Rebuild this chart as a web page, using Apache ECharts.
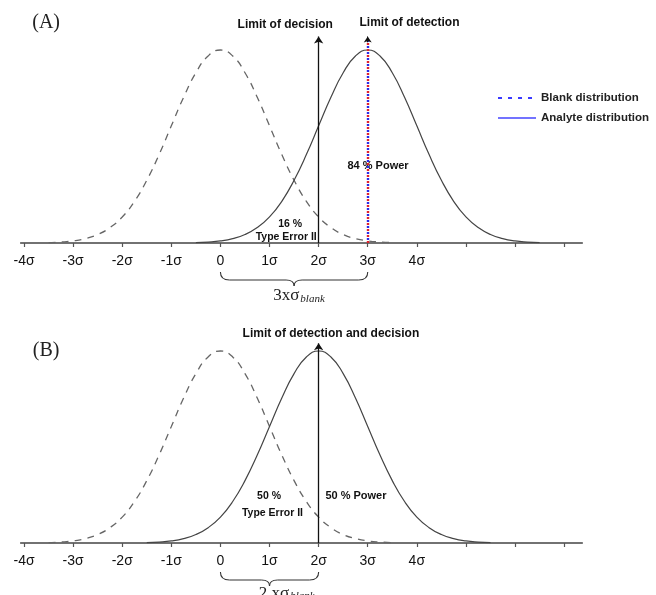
<!DOCTYPE html>
<html>
<head>
<meta charset="utf-8">
<script src="https://cdn.jsdelivr.net/npm/echarts@6/dist/echarts.min.js"></script>
<style>
  html, body { margin: 0; background: #fff; }
  #chart { width: 656px; height: 595px; }
</style>
</head>
<body>
<div id="chart"></div>
<script>
// axis ticks (in sigma units) and their labels
const sigmaTicks = [-4, -3, -2, -1, 0, 1, 2, 3, 4, 5, 6, 7];
const sigmaLabels = ["-4σ", "-3σ", "-2σ", "-1σ", "0", "1σ", "2σ", "3σ", "4σ", "", "", ""];

// curve profile: distance from the mean (σ) and relative height
const offsets = [-3.5, -3.25, -3, -2.75, -2.5, -2.25, -2, -1.75, -1.5, -1.25, -1, -0.75, -0.5, -0.25, 0,
  0.25, 0.5, 0.75, 1, 1.25, 1.5, 1.75, 2, 2.25, 2.5, 2.75, 3, 3.25, 3.5];
const heights = [0.002, 0.005, 0.011, 0.023, 0.044, 0.08, 0.135, 0.216, 0.325, 0.458, 0.607, 0.755, 0.882, 0.969, 1,
  0.969, 0.882, 0.755, 0.607, 0.458, 0.325, 0.216, 0.135, 0.08, 0.044, 0.023, 0.011, 0.005, 0.002];

// means of the distributions
const blankMean = 0;
const analyteMeanA = 3;
const analyteMeanB = 2;

// limits
const decisionA = 2;
const detectionA = 3;
const limitB = 2;

const curve = (mean) => offsets.map((d, i) => [mean + d, heights[i]]);

const FONT = "Liberation Sans, Arial, sans-serif";
const SERIF = "Liberation Serif, Times New Roman, serif";

const chart = echarts.init(document.getElementById("chart"), null, { renderer: "canvas" });

const xAxisBase = (gridIndex) => ({
  type: "value",
  gridIndex: gridIndex,
  min: -4.07,
  max: 7.37,
  splitLine: { show: false },
  axisLine: { show: true, lineStyle: { color: "#444", width: 1.5 } },
  axisTick: {
    show: true,
    customValues: sigmaTicks,
    length: 4,
    lineStyle: { color: "#555", width: 1.2 },
  },
  axisLabel: {
    customValues: sigmaTicks,
    margin: 11,
    fontSize: 14,
    fontFamily: FONT,
    color: "#111",
    formatter: (v) => sigmaLabels[sigmaTicks.indexOf(Math.round(v))] || "",
  },
});

const yAxisBase = (gridIndex) => ({
  type: "value",
  gridIndex: gridIndex,
  min: 0,
  max: 1.2,
  show: false,
});

const blankStyle = { color: "#666", width: 1.3, type: [7, 6] };
const analyteStyle = { color: "#444", width: 1.2, type: "solid" };

const arrowLine = (x, top, color) => [
  { coord: [x, 0], symbol: "none", lineStyle: { color: color, width: 1.3, type: "solid" } },
  { coord: [x, top], symbol: "arrow", symbolSize: 7 },
];

const option = {
  animation: false,
  grid: [
    { left: 20.6, right: 73.7, top: 11.4, bottom: 352 },
    { left: 20.6, right: 73.7, top: 312.6, bottom: 52 },
  ],
  xAxis: [xAxisBase(0), xAxisBase(1)],
  yAxis: [yAxisBase(0), yAxisBase(1)],
  legend: {
    orient: "vertical",
    left: 492,
    top: 87,
    itemWidth: 38,
    itemHeight: 10,
    itemGap: 8,
    itemStyle: { opacity: 0 },
    textStyle: { fontFamily: FONT, fontWeight: "bold", fontSize: 11.5, color: "#222" },
    data: [
      { name: "Blank distribution", itemStyle: { opacity: 0 }, lineStyle: { color: "#3a3aff", width: 2, type: [4, 6] } },
      { name: "Analyte distribution", itemStyle: { opacity: 0 }, lineStyle: { color: "#4444ff", width: 1.5, type: "solid" } },
    ],
  },
  series: [
    {
      name: "Blank distribution",
      type: "line",
      xAxisIndex: 0,
      yAxisIndex: 0,
      data: curve(blankMean),
      smooth: true,
      symbol: "none",
      lineStyle: blankStyle,
      itemStyle: { color: "#666" },
      silent: true,
    },
    {
      name: "Analyte distribution",
      type: "line",
      xAxisIndex: 0,
      yAxisIndex: 0,
      data: curve(analyteMeanA),
      smooth: true,
      symbol: "none",
      lineStyle: analyteStyle,
      itemStyle: { color: "#444" },
      silent: true,
      markLine: {
        silent: true,
        label: { show: false },
        symbol: ["none", "arrow"],
        data: [
          arrowLine(decisionA, 1.07, "#111"),
          [
            { coord: [detectionA, 0], symbol: "none", lineStyle: { color: "#e0202a", width: 2.4, type: [2, 4], dashOffset: 0 } },
            { coord: [detectionA, 1.05], symbol: "none" },
          ],
          [
            { coord: [detectionA, 0], symbol: "none", lineStyle: { color: "#2a2ae8", width: 2.4, type: [2, 4], dashOffset: 3 } },
            { coord: [detectionA, 1.05], symbol: "none" },
          ],
          [
            { coord: [detectionA, 1.04], symbol: "none", lineStyle: { color: "#111", width: 1, type: "solid" } },
            { coord: [detectionA, 1.07], symbol: "arrow", symbolSize: 6 },
          ],
        ],
      },
    },
    {
      name: "Blank distribution",
      type: "line",
      xAxisIndex: 1,
      yAxisIndex: 1,
      data: curve(blankMean),
      smooth: true,
      symbol: "none",
      lineStyle: blankStyle,
      itemStyle: { color: "#666" },
      silent: true,
    },
    {
      name: "Analyte distribution",
      type: "line",
      xAxisIndex: 1,
      yAxisIndex: 1,
      data: curve(analyteMeanB),
      smooth: true,
      symbol: "none",
      lineStyle: analyteStyle,
      itemStyle: { color: "#444" },
      silent: true,
      markLine: {
        silent: true,
        label: { show: false },
        symbol: ["none", "arrow"],
        data: [arrowLine(limitB, 1.04, "#111")],
      },
    },
  ],
};

chart.setOption(option);

// annotations placed at data coordinates
const px = (g, x, y) => chart.convertToPixel({ gridIndex: g }, [x, y]);

const text = (g, x, y, str, size, extra) => {
  const p = px(g, x, y);
  return {
    type: "text",
    x: p[0],
    y: p[1],
    silent: true,
    style: Object.assign(
      {
        text: str,
        fontFamily: FONT,
        fontWeight: "bold",
        fontSize: size,
        fill: "#111",
        align: "center",
        verticalAlign: "middle",
      },
      extra || {}
    ),
  };
};

// curly brace under the axis, built from lines and quadratic curves
const brace = (g, x1, x2, drop) => {
  const a = px(g, x1, 0);
  const b = px(g, x2, 0);
  const y0 = a[1] + drop;
  const l = a[0], r = b[0], m = (l + r) / 2;
  const st = { stroke: "#333", fill: null, lineWidth: 1.1 };
  const q = (x1, y1, cx, cy, x2, y2) => ({
    type: "bezierCurve", silent: true,
    shape: { x1: x1, y1: y1, cpx1: cx, cpy1: cy, x2: x2, y2: y2 }, style: st,
  });
  const ln = (x1, y1, x2, y2) => ({
    type: "line", silent: true,
    shape: { x1: x1, y1: y1, x2: x2, y2: y2 }, style: st,
  });
  return {
    type: "group",
    children: [
      q(l, y0, l, y0 + 8, l + 9, y0 + 8),
      ln(l + 9, y0 + 8, m - 8, y0 + 8),
      q(m - 8, y0 + 8, m, y0 + 8, m, y0 + 14),
      q(m, y0 + 14, m, y0 + 8, m + 8, y0 + 8),
      ln(m + 8, y0 + 8, r - 9, y0 + 8),
      q(r - 9, y0 + 8, r, y0 + 8, r, y0),
    ],
  };
};

const sigmaText = (g, x, y, main) => {
  const p = px(g, x, y);
  return {
    type: "text",
    x: p[0],
    y: p[1],
    silent: true,
    style: {
      text: `{m|${main}}{s|blank}`,
      align: "center",
      verticalAlign: "middle",
      rich: {
        m: { fontFamily: SERIF, fontSize: 17, fill: "#222", verticalAlign: "bottom", lineHeight: 18 },
        s: { fontFamily: SERIF, fontStyle: "italic", fontSize: 11, fill: "#222", verticalAlign: "bottom", lineHeight: 12, padding: [0, 0, 0, 1] },
      },
    },
  };
};

const panelLabel = (g, x, y, str) => text(g, x, y, str, 20, { fontFamily: SERIF, fontWeight: "normal", fill: "#222" });

chart.setOption({
  graphic: [
    panelLabel(0, -3.55, 1.14, "(A)"),
    text(0, 1.32, 1.13, "Limit of decision", 12),
    text(0, 3.85, 1.14, "Limit of detection", 12),
    text(0, 3.21, 0.40, "84 % Power", 11),
    text(0, 1.42, 0.10, "16 %", 10.5),
    text(0, 1.34, 0.03, "Type Error II", 10.5),
    brace(0, 0, 3, 29),
    sigmaText(0, 1.6, -0.27, "3xσ"),

    panelLabel(1, -3.55, 1.0, "(B)"),
    text(1, 2.25, 1.09, "Limit of detection and decision", 12),
    text(1, 0.99, 0.245, "50 %", 10.5),
    text(1, 1.06, 0.156, "Type Error II", 10.5),
    text(1, 2.76, 0.245, "50 % Power", 11),
    brace(1, 0, 2, 29),
    sigmaText(1, 1.35, -0.26, "2 xσ"),
  ],
});
</script>
</body>
</html>
